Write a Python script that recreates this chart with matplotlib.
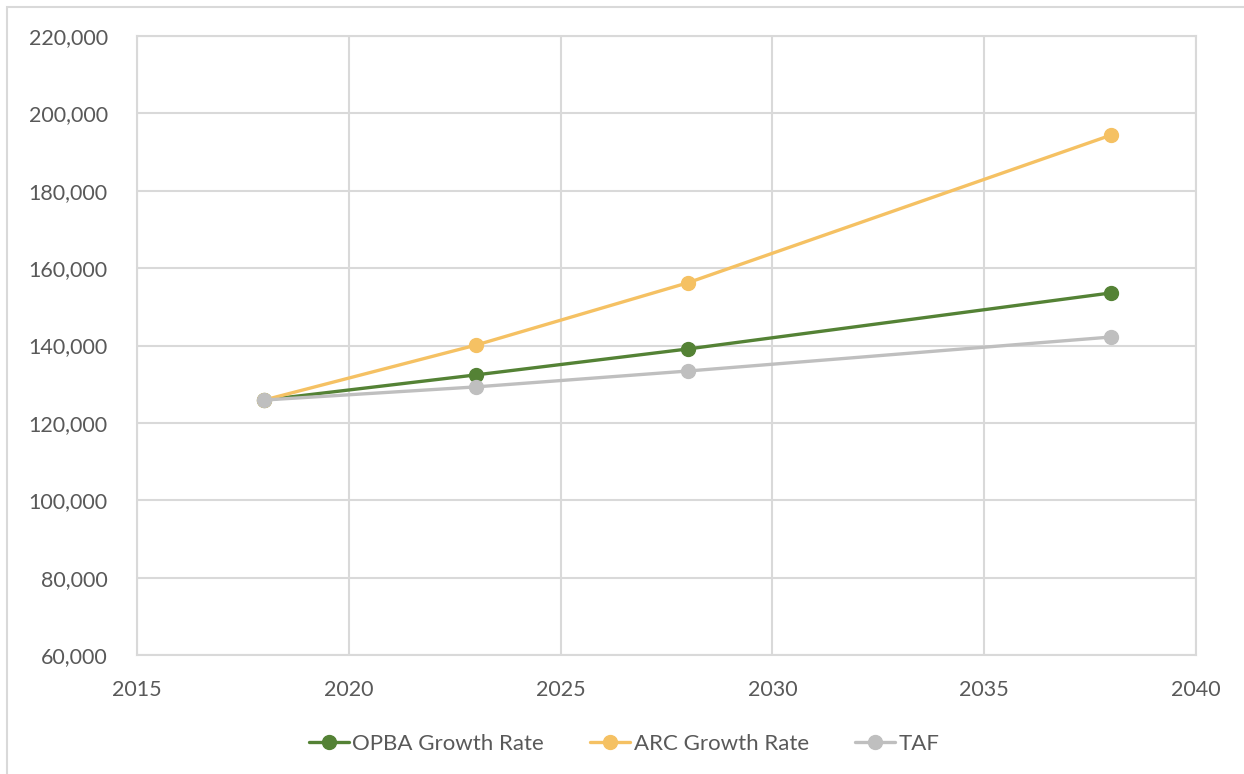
import matplotlib
matplotlib.use("Agg")
import matplotlib.pyplot as plt
from matplotlib.patches import Rectangle
from matplotlib.ticker import FuncFormatter, MultipleLocator

years = [2018, 2023, 2028, 2038]
opba = [125900, 132400, 139100, 153600]
arc = [125900, 140100, 156200, 194400]
taf = [125900, 129300, 133400, 142200]

series_names = ["OPBA Growth Rate", "ARC Growth Rate", "TAF"]
series_colors = ["#548235", "#F5C163", "#BFBFBF"]

plt.rcParams["font.family"] = ["Lato", "DejaVu Sans"]
text_color = "#595959"
grid_color = "#D9D9D9"

fig = plt.figure(figsize=(12.44, 7.74), dpi=100)
fig.patch.set_facecolor("white")

# outer chart frame
fig.patches.append(Rectangle((7 / 1244, -0.05), 1.1, 1 - 7 / 774 + 0.05,
                             transform=fig.transFigure, fill=False,
                             edgecolor=grid_color, linewidth=1.5))

ax = fig.add_axes([137 / 1244, 1 - 655 / 774, (1196 - 137) / 1244, (655 - 36) / 774])

for vals, name, col in zip([opba, arc, taf], series_names, series_colors):
    ax.plot(years, vals, color=col, linewidth=2.4, marker="o", markersize=10,
            label=name, solid_capstyle="round")

ax.set_xlim(2015, 2040)
ax.set_ylim(60000, 220000)
ax.xaxis.set_major_locator(MultipleLocator(5))
ax.yaxis.set_major_locator(MultipleLocator(20000))
ax.yaxis.set_major_formatter(FuncFormatter(lambda v, p: f"{int(v):,}"))

ax.grid(True, color=grid_color, linewidth=1.5)
ax.set_axisbelow(True)
for s in ax.spines.values():
    s.set_color(grid_color)
    s.set_linewidth(1.5)
ax.tick_params(length=0, labelsize=15.5, colors=text_color)
ax.tick_params(axis="y", pad=21)
ax.tick_params(axis="x", pad=18)

ax.legend(loc="upper center", bbox_to_anchor=(0.46, -0.095), ncol=3,
          frameon=False, fontsize=16, labelcolor=text_color,
          handlelength=1.8, handletextpad=0.15, columnspacing=2.1)

fig.savefig("out.png", dpi=100, facecolor="white")
